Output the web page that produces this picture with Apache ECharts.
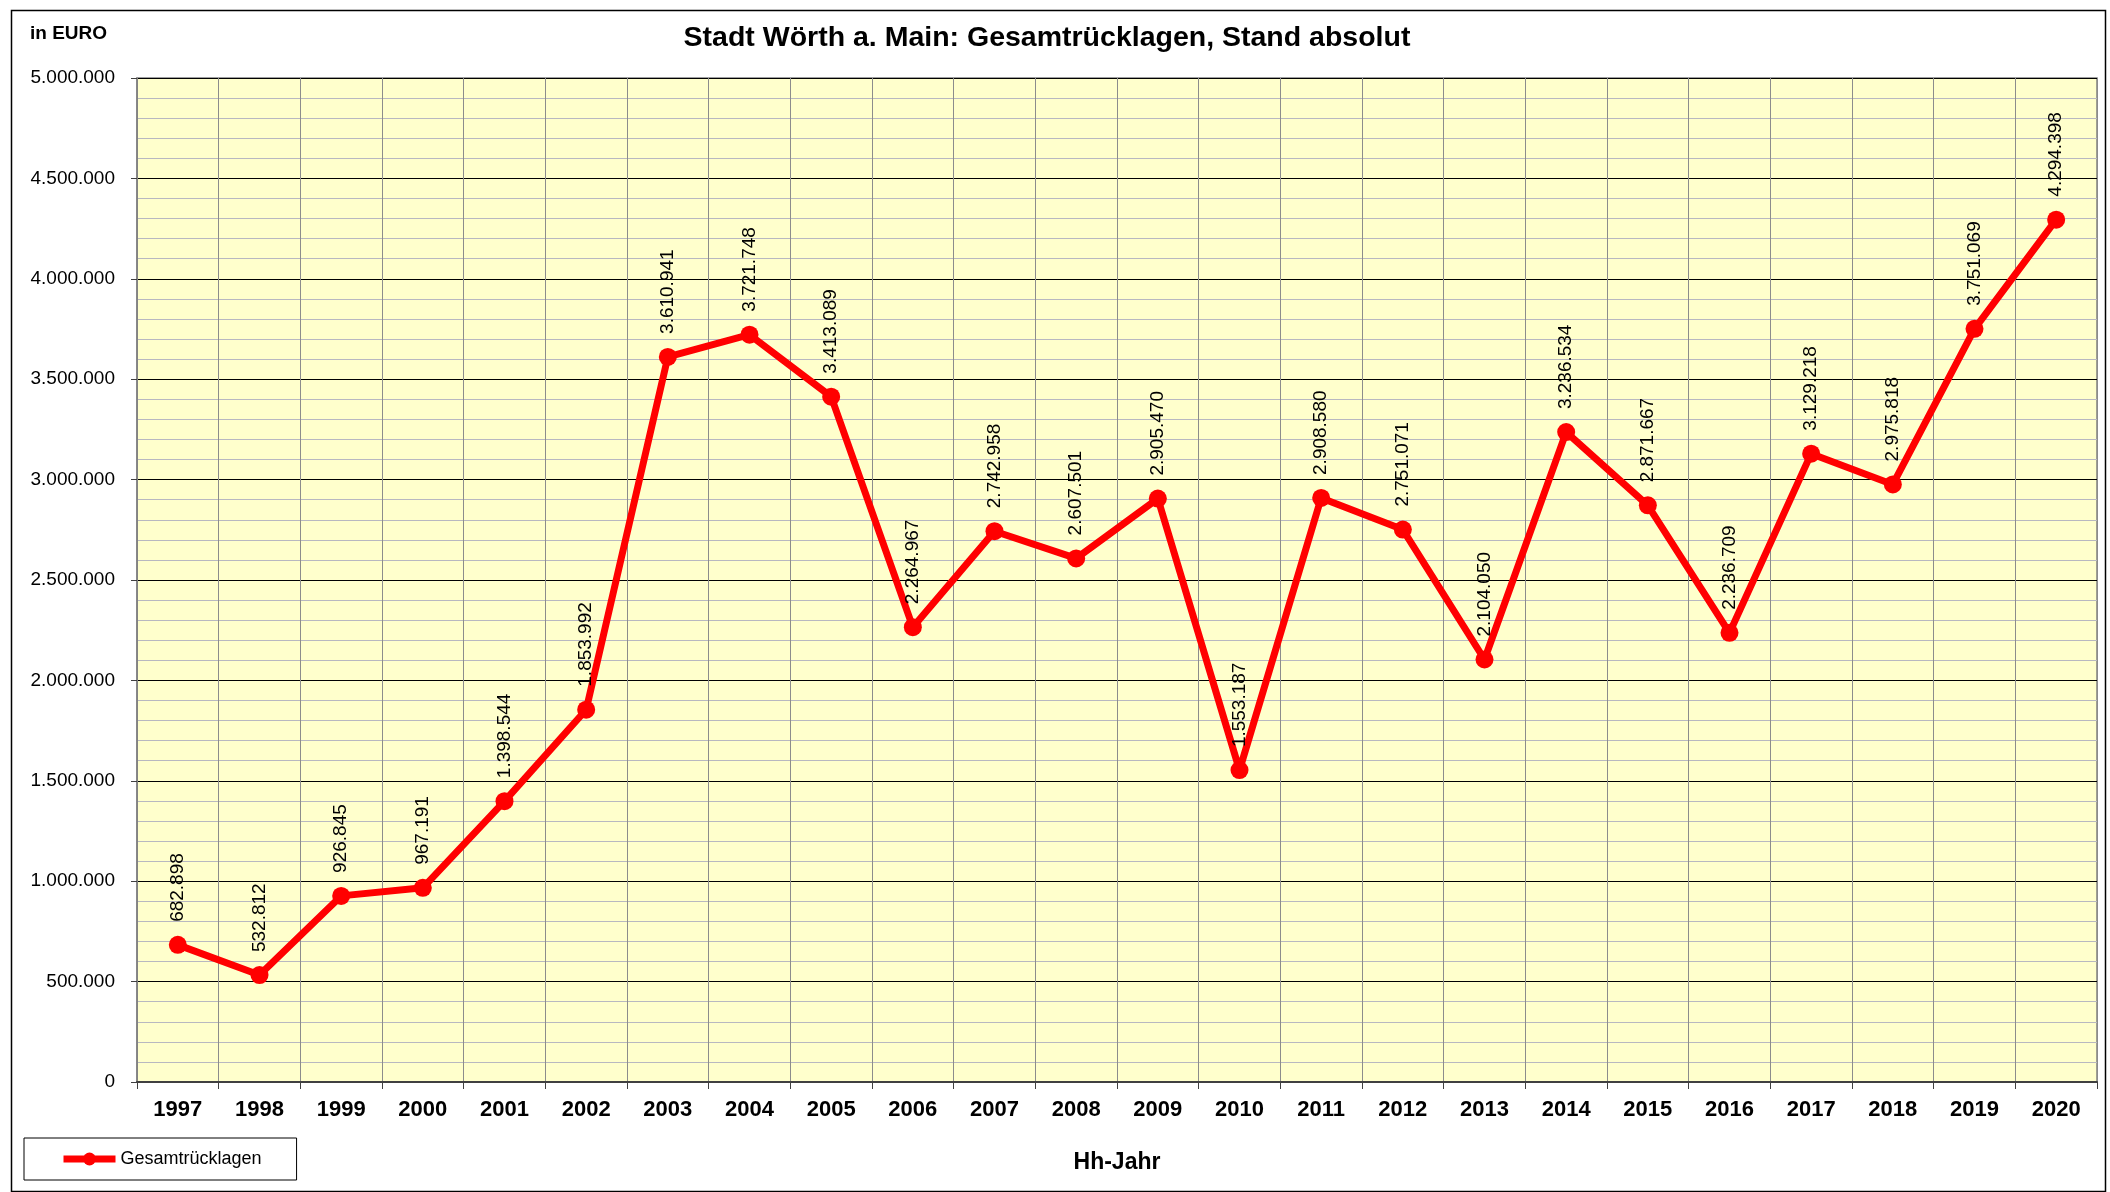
<!DOCTYPE html>
<html>
<head>
<meta charset="utf-8">
<script src="https://cdn.jsdelivr.net/npm/echarts@6/dist/echarts.min.js"></script>
<style>
html,body{margin:0;padding:0;background:#fff;}
#chart{width:2110px;height:1192px;}
</style>
</head>
<body>
<div id="chart"></div>
<script>
const years = ['1997','1998','1999','2000','2001','2002','2003','2004','2005','2006','2007','2008','2009','2010','2011','2012','2013','2014','2015','2016','2017','2018','2019','2020'];
const gesamtruecklagen = [682898,532812,926845,967191,1398544,1853992,3610941,3721748,3413089,2264967,2742958,2607501,2905470,1553187,2908580,2751071,2104050,3236534,2871667,2236709,3129218,2975818,3751069,4294398];
const yMin = 0, yMax = 5000000, yStep = 500000;
const titleText = 'Stadt Wörth a. Main: Gesamtrücklagen, Stand absolut';
const unitText = 'in EURO';
const xName = 'Hh-Jahr';
const seriesName = 'Gesamtrücklagen';

const FONT = '"Liberation Sans", Arial, sans-serif';
function de(v){ return String(v).replace(/\B(?=(\d{3})+(?!\d))/g,'.'); }

const chart = echarts.init(document.getElementById('chart'), null, {renderer:'canvas'});
chart.setOption({
  backgroundColor:'#ffffff',
  animation:false,
  textStyle:{fontFamily:FONT},
  graphic:[{
    type:'rect', left:9, top:8, shape:{width:2094, height:1181},
    style:{fill:'none', stroke:'#000', lineWidth:1.5}, z:-1, silent:true
  }],
  title:[
    {text:titleText, left:1042, textAlign:'center', top:19, textStyle:{fontFamily:FONT, fontSize:28.5, fontWeight:'bold', color:'#000'}},
    {text:unitText, left:25, top:19, textStyle:{fontFamily:FONT, fontSize:19, fontWeight:'bold', color:'#000'}}
  ],
  legend:{
    left:24, top:1138, orient:'horizontal',
    padding:[12,35,12,36],
    borderColor:'#000', borderWidth:1, backgroundColor:'#fff',
    itemWidth:52, itemHeight:16,
    lineStyle:{width:7, color:'#FF0000'},
    textStyle:{fontFamily:FONT, fontSize:18, color:'#000'},
    data:[seriesName]
  },
  grid:{left:137, right:13, top:78, bottom:110, show:true, backgroundColor:'#FFFFCC', borderColor:'#808080', borderWidth:1.5},
  xAxis:{
    type:'category', data:years, boundaryGap:true,
    name:xName, nameLocation:'middle', nameGap:69,
    nameTextStyle:{fontFamily:FONT, fontSize:23, fontWeight:'bold', color:'#000'},
    axisLine:{lineStyle:{color:'#404040', width:2}},
    axisTick:{show:true, length:7, lineStyle:{color:'#404040'}},
    axisLabel:{fontFamily:FONT, fontSize:22, fontWeight:'bold', color:'#000', margin:17},
    splitLine:{show:true, lineStyle:{color:'#8c8c8c', width:1}}
  },
  yAxis:{
    type:'value', min:yMin, max:yMax, interval:yStep,
    axisLine:{show:true, lineStyle:{color:'#808080', width:1.5}},
    axisTick:{show:true, length:6, lineStyle:{color:'#404040'}},
    axisLabel:{fontFamily:FONT, fontSize:19, color:'#000', margin:22, formatter:de},
    splitLine:{show:true, lineStyle:{color:'#000', width:1}},
    minorTick:{show:false, splitNumber:5},
    minorSplitLine:{show:true, lineStyle:{color:'#b8b8c0', width:1}}
  },
  series:[{
    name:seriesName, type:'line', data:gesamtruecklagen,
    symbol:'circle', symbolSize:18,
    lineStyle:{color:'#FF0000', width:7},
    itemStyle:{color:'#FF0000'},
    label:{show:true, position:'top', distance:14, rotate:90, align:'left', verticalAlign:'middle',
      fontFamily:FONT, fontSize:19, color:'#000', formatter:p=>de(p.value)},
    z:5
  }]
});
</script>
</body>
</html>
